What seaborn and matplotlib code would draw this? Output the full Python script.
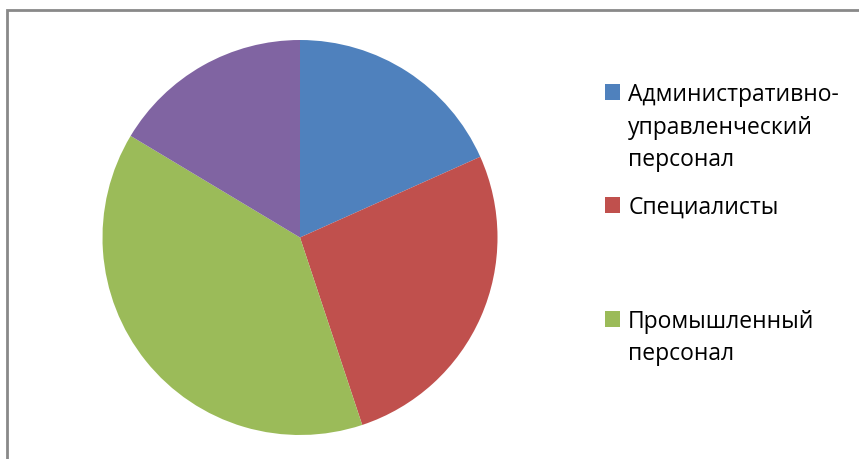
import matplotlib
matplotlib.use("Agg")
import matplotlib.pyplot as plt
from matplotlib.patches import Patch, Rectangle
import seaborn as sns

categories = ["Административно-\nуправленческий\nперсонал", "Специалисты", "Промышленный\nперсонал", "Прочие"]
values = [18.3, 26.6, 38.7, 16.4]
colors = ["#4F81BD", "#C0504D", "#9BBB59", "#8064A2"]
legend_shown = [0, 1, 2]

sns.set_theme(style="white")
plt.rcParams['font.family'] = ['Open Sans', 'DejaVu Sans']

W, H = 859, 460
fig = plt.figure(figsize=(W / 100, H / 100), dpi=100)
fig.patch.set_facecolor("white")

# border of the chart area (cut off at right and bottom)
fig.patches.append(Rectangle((7 / W, -0.05), 1.1, 1 - 11 / H + 0.05, transform=fig.transFigure,
                             fill=False, edgecolor="#898989", linewidth=2, zorder=0))

cx, cy, r = 300, 238.5, 197.5
ax = fig.add_axes([(cx - r) / W, (H - cy - r) / H, 2 * r / W, 2 * r / H])
wedges, _ = ax.pie(values, colors=colors, startangle=90, counterclock=False, radius=1,
                   wedgeprops=dict(linewidth=0))
ax.set_xlim(-1, 1)
ax.set_ylim(-1, 1)
ax.set_aspect("equal")
ax.axis("off")

fs = 16.5
line_px = 32.5
anchors_y = [83, 196, 310]
legs = []
for idx, ay in zip(legend_shown, anchors_y):
    lines = categories[idx].split("\n")
    leg = fig.legend(handles=[Patch(facecolor=colors[idx], edgecolor="none")],
                     labels=[lines[0]], loc="upper left",
                     bbox_to_anchor=(605 / W, 1 - ay / H), frameon=False, fontsize=fs,
                     handlelength=0.65, handleheight=0.65, handletextpad=0.36,
                     borderpad=0, borderaxespad=0)
    leg.get_texts()[0].set_color("#000000")
    legs.append((leg, lines))

fig.canvas.draw()
for leg, lines in legs:
    bb = leg.get_texts()[0].get_window_extent()
    for k, line in enumerate(lines[1:], start=1):
        fig.text(bb.x0 / W, (bb.y1 - k * line_px) / H, line, fontsize=fs, color="#000000",
                 ha="left", va="top")

fig.savefig("out.png", dpi=100)
